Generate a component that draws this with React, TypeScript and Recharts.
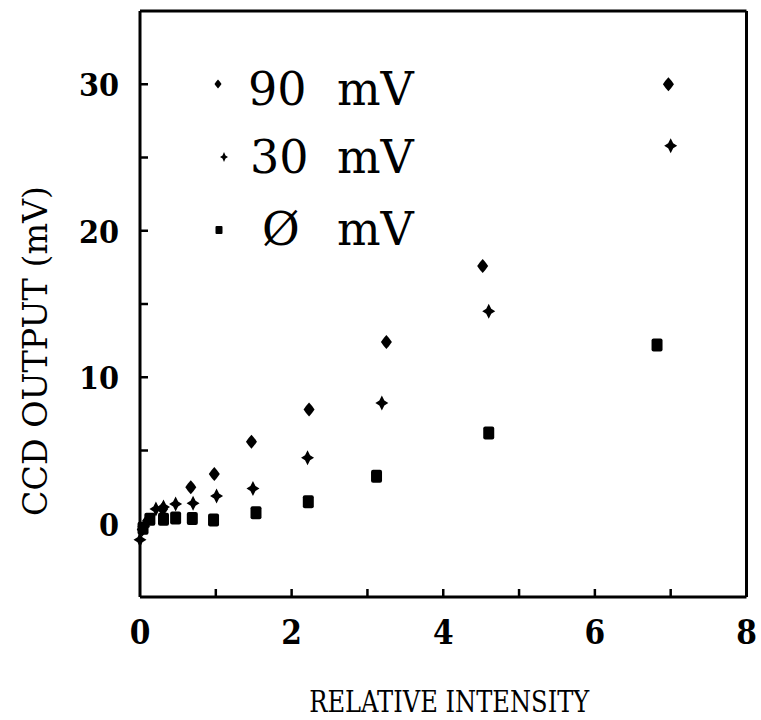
import { ScatterChart, Scatter, XAxis, YAxis, Legend, Label } from 'recharts';

// relative intensity (x) and CCD output in mV (y), one pair of arrays per bias
const intensity90 = [0.03, 0.1, 0.3, 0.67, 0.98, 1.47, 2.23, 3.25, 4.52, 6.97];
const output90 = [-0.4, 0.2, 1.0, 2.5, 3.4, 5.6, 7.8, 12.4, 17.6, 30.0];

const intensity30 = [0.0, 0.05, 0.21, 0.31, 0.47, 0.7, 1.01, 1.49, 2.21, 3.19, 4.6, 7.0];
const output30 = [-1.1, -0.2, 1.0, 1.15, 1.35, 1.4, 1.9, 2.4, 4.5, 8.25, 14.5, 25.8];

const intensity0 = [0.04, 0.13, 0.31, 0.47, 0.69, 0.97, 1.53, 2.22, 3.12, 4.6, 6.82];
const output0 = [-0.3, 0.3, 0.3, 0.4, 0.36, 0.25, 0.75, 1.5, 3.24, 6.2, 12.2];

const xTicks = [0, 1, 2, 3, 4, 5, 6, 7, 8];
const yTicks = [-5, 0, 5, 10, 15, 20, 25, 30, 35];
const xLabeled = [0, 2, 4, 6, 8];
const yLabeled = [0, 10, 20, 30];

const toPoints = (xs: number[], ys: number[]) => xs.map((x, i) => ({ x, y: ys[i] }));
const data90 = toPoints(intensity90, output90);
const data30 = toPoints(intensity30, output30);
const data0 = toPoints(intensity0, output0);

const INK = '#000';
const NUM_FONT = '"DejaVu Serif", serif';
const TITLE_FONT = '"DejaVu Serif Condensed", "DejaVu Serif", serif';
const axisStyle = { stroke: INK, strokeWidth: 3 };
const TICK_LEN = 8;

const diamondPath = (cx: number, cy: number, w: number, h: number) =>
  `M${cx},${cy - h} Q${cx + w * 0.55},${cy - h * 0.55} ${cx + w},${cy} Q${cx + w * 0.55},${cy + h * 0.55} ${cx},${cy + h} Q${cx - w * 0.55},${cy + h * 0.55} ${cx - w},${cy} Q${cx - w * 0.55},${cy - h * 0.55} ${cx},${cy - h} Z`;

const starPath = (cx: number, cy: number, w: number, h: number, t: number) =>
  `M${cx},${cy - h} L${cx + t},${cy - t} L${cx + w},${cy} L${cx + t},${cy + t} L${cx},${cy + h} L${cx - t},${cy + t} L${cx - w},${cy} L${cx - t},${cy - t} Z`;

const Diamond = (props: any) => {
  const { cx, cy } = props;
  return <path d={diamondPath(cx, cy, 5.5, 7)} fill={INK} />;
};

const Plus = (props: any) => {
  const { cx, cy } = props;
  return <path d={starPath(cx, cy, 6.5, 7.5, 2.5)} fill={INK} />;
};

const Square = (props: any) => {
  const { cx, cy } = props;
  return <rect x={cx - 5.5} y={cy - 6.5} width={11} height={13} rx={2} fill={INK} />;
};

const BottomTick = (props: any) => {
  const { x, y, payload } = props;
  const v = payload.value;
  return (
    <g>
      {v > 0 && v < 8 && <line x1={x} x2={x} y1={y} y2={y - TICK_LEN} stroke={INK} strokeWidth={2.5} />}
      {xLabeled.includes(v) && (
        <text x={x} y={y + 47} textAnchor="middle" fontFamily={TITLE_FONT} fontWeight="bold" fontSize={33} fill={INK}>
          {v}
        </text>
      )}
    </g>
  );
};

const TopTick = (props: any) => {
  const { x, y, payload } = props;
  const v = payload.value;
  if (v <= 0 || v >= 8) return <g />;
  return <line x1={x} x2={x} y1={y} y2={y + TICK_LEN} stroke={INK} strokeWidth={2.5} />;
};

const LeftTick = (props: any) => {
  const { x, y, payload } = props;
  const v = payload.value;
  return (
    <g>
      {v > -5 && v < 35 && <line x1={x} x2={x + TICK_LEN} y1={y} y2={y} stroke={INK} strokeWidth={2.5} />}
      {yLabeled.includes(v) && (
        <text x={x - 21} y={y + 12} textAnchor="end" fontFamily={TITLE_FONT} fontWeight="bold" fontSize={32} fill={INK}>
          {v}
        </text>
      )}
    </g>
  );
};

const RightTick = (props: any) => {
  const { x, y, payload } = props;
  const v = payload.value;
  if (v <= -5 || v >= 35) return <g />;
  return <line x1={x} x2={x - TICK_LEN} y1={y} y2={y} stroke={INK} strokeWidth={2.5} />;
};

const XTitle = (props: any) => {
  const vb = props.viewBox;
  return (
    <text
      x={vb.x + vb.width / 2 + 6}
      y={vb.y + 115}
      textAnchor="middle"
      fontFamily={TITLE_FONT}
      fontSize={29}
      textLength={280}
      lengthAdjust="spacingAndGlyphs"
      fill={INK}
    >
      RELATIVE INTENSITY
    </text>
  );
};

const YTitle = (props: any) => {
  const vb = props.viewBox;
  const cx = vb.x - 25;
  const cy = vb.y + 340;
  return (
    <text
      x={cx}
      y={cy}
      transform={`rotate(-90 ${cx} ${cy})`}
      textAnchor="middle"
      dominantBaseline="central"
      fontFamily={TITLE_FONT}
      fontSize={33}
      textLength={330}
      lengthAdjust="spacingAndGlyphs"
      fill={INK}
    >
      CCD OUTPUT (mV)
    </text>
  );
};

const legendRows = [
  { key: '90', num: '90', numX: 48, base: 55, sy: 34, sx: 18, mark: 'diamond' },
  { key: '30', num: '30', numX: 50, base: 123, sy: 107, sx: 24, mark: 'plus' },
  { key: '0', num: 'Ø', numX: 62, base: 195, sy: 180, sx: 19, mark: 'square' },
];

const LegendBox = () => (
  <svg width={240} height={210}>
    {legendRows.map((r) => (
      <g key={r.key}>
        {r.mark === 'diamond' && <path d={diamondPath(r.sx, r.sy, 3.5, 4.5)} fill={INK} />}
        {r.mark === 'plus' && <path d={starPath(r.sx, r.sy, 4, 5, 1.5)} fill={INK} />}
        {r.mark === 'square' && <rect x={r.sx - 3.5} y={r.sy - 4} width={7} height={8} rx={1} fill={INK} />}
        <text y={r.base} fontFamily={NUM_FONT} fontSize={46} fill={INK}>
          <tspan x={r.numX}>{r.num}</tspan>
          <tspan x={137}>mV</tspan>
        </text>
      </g>
    ))}
  </svg>
);

export default function App() {
  return (
    <div style={{ position: 'absolute', left: 0, top: 0, width: 761, height: 720, overflow: 'hidden', background: '#fff' }}>
      <ScatterChart width={761} height={720} margin={{ top: 10, right: 13.5, bottom: 5, left: 60 }}>
        <XAxis
          type="number"
          dataKey="x"
          domain={[0, 8]}
          ticks={xTicks}
          interval={0}
          height={118}
          tickSize={0}
          tickMargin={0}
          tickLine={false}
          axisLine={axisStyle}
          tick={BottomTick}
        >
          <Label content={XTitle} />
        </XAxis>
        <XAxis
          xAxisId="top"
          orientation="top"
          type="number"
          domain={[0, 8]}
          ticks={xTicks}
          interval={0}
          height={1}
          tickSize={0}
          tickMargin={0}
          tickLine={false}
          axisLine={axisStyle}
          tick={TopTick}
        />
        <YAxis
          type="number"
          dataKey="y"
          domain={[-5, 35]}
          ticks={yTicks}
          interval={0}
          width={80}
          tickSize={0}
          tickMargin={0}
          tickLine={false}
          axisLine={axisStyle}
          tick={LeftTick}
        >
          <Label content={YTitle} />
        </YAxis>
        <YAxis
          yAxisId="right"
          orientation="right"
          type="number"
          domain={[-5, 35]}
          ticks={yTicks}
          interval={0}
          width={1}
          tickSize={0}
          tickMargin={0}
          tickLine={false}
          axisLine={axisStyle}
          tick={RightTick}
        />
        <Legend
          layout="vertical"
          align="center"
          verticalAlign="middle"
          content={LegendBox}
          wrapperStyle={{ left: 200, top: 50, width: 240, height: 210 }}
        />
        <Scatter name="90 mV" data={data90} shape={Diamond} isAnimationActive={false} />
        <Scatter name="30 mV" data={data30} shape={Plus} isAnimationActive={false} />
        <Scatter name="0 mV" data={data0} shape={Square} isAnimationActive={false} />
      </ScatterChart>
    </div>
  );
}
